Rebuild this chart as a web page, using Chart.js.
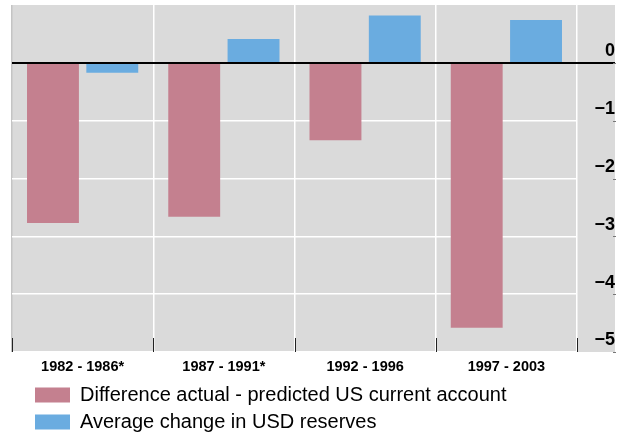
<!DOCTYPE html>
<html>
<head>
<meta charset="utf-8">
<script src="https://cdn.jsdelivr.net/npm/chart.js@4"></script>
<style>
  html, body { margin: 0; padding: 0; background: #fff; }
  #wrap { width: 622px; height: 432px; }
</style>
</head>
<body>
<div id="wrap"><canvas id="ch1" width="622" height="432"></canvas></div>
<script>
// data
const periods = ['1982 - 1986*', '1987 - 1991*', '1992 - 1996', '1997 - 2003'];
const currentAccountGap = [-2.77, -2.66, -1.34, -4.58];
const usdReserveChange = [-0.17, 0.41, 0.82, 0.74];
const seriesNames = ['Difference actual - predicted US current account', 'Average change in USD reserves'];
const yTicks = [0, -1, -2, -3, -4, -5];

const RED = '#c4808f';
const BLUE = '#6aace0';
const PANEL = '#dadada';
const PANEL_RIGHT = 615;

// grey panel behind plot and tick labels, zero line, axis marks
const panelPlugin = {
  id: 'panel',
  beforeDraw(chart) {
    const {ctx, chartArea: a} = chart;
    ctx.save();
    ctx.fillStyle = PANEL;
    ctx.fillRect(a.left, a.top, PANEL_RIGHT - a.left, a.bottom - a.top);
    ctx.restore();
  },
  afterDatasetsDraw(chart) {
    const {ctx, chartArea: a, scales: {x, y}} = chart;
    ctx.save();
    // zero line
    const y0 = Math.round(y.getPixelForValue(0));
    ctx.strokeStyle = '#000';
    ctx.lineWidth = 2;
    ctx.beginPath();
    ctx.moveTo(a.left, y0);
    ctx.lineTo(PANEL_RIGHT, y0);
    ctx.stroke();
    // category boundary ticks at the bottom
    ctx.strokeStyle = '#222';
    ctx.lineWidth = 1;
    const half = (x.getPixelForValue(1) - x.getPixelForValue(0)) / 2;
    for (let i = 0; i <= periods.length; i++) {
      const px = Math.round(x.getPixelForValue(i) - half) + 0.5;
      ctx.beginPath();
      ctx.moveTo(px, a.bottom - 14);
      ctx.lineTo(px, a.bottom);
      ctx.stroke();
    }
    // small marks on the right edge
    ctx.strokeStyle = '#777';
    yTicks.forEach(v => {
      const py = Math.round(y.getPixelForValue(v)) + 0.5;
      ctx.beginPath();
      ctx.moveTo(PANEL_RIGHT - 2, py);
      ctx.lineTo(PANEL_RIGHT + 1, py);
      ctx.stroke();
    });
    ctx.restore();
  },
  afterLayout(chart) {
    // legend sits further in than the library puts it
    chart.legend.left = 28;
    chart.legend.top = 378;
  }
};

const ctx = document.getElementById('ch1').getContext('2d');

const data = {
  labels: periods,
  datasets: [
    { label: seriesNames[0], data: currentAccountGap, backgroundColor: RED, borderWidth: 0 },
    { label: seriesNames[1], data: usdReserveChange, backgroundColor: BLUE, borderWidth: 0 }
  ]
};

const myBarChart = new Chart(ctx, {
  type: 'bar',
  data: data,
  plugins: [panelPlugin],
  options: {
    responsive: false,
    animation: false,
    devicePixelRatio: 1,
    layout: { padding: { top: 5, left: 12, right: 7, bottom: -10 } },
    datasets: { bar: { categoryPercentage: 0.84, barPercentage: 0.875 } },
    plugins: {
      tooltip: { enabled: false },
      legend: {
        position: 'bottom',
        align: 'start',
        labels: {
          boxWidth: 35,
          boxHeight: 15,
          padding: 7,
          color: '#000',
          font: { family: 'Liberation Sans, Arial, sans-serif', size: 20 }
        }
      }
    },
    scales: {
      x: {
        offset: true,
        border: { display: false },
        grid: {
          offset: true,
          drawTicks: false,
          color: c => (c.index === 0 ? '#c4c4c4' : '#ffffff'),
          lineWidth: 1.5
        },
        ticks: {
          padding: 6,
          color: '#000',
          font: { family: 'Liberation Sans, Arial, sans-serif', size: 14.5, weight: 'bold' }
        },
        afterFit: s => { s.height = 26; s.paddingLeft = 0; s.paddingRight = 0; }
      },
      y: {
        position: 'right',
        min: -5,
        max: 1,
        border: { display: false },
        grid: {
          drawTicks: false,
          color: c => (c.tick.value === 0 || c.tick.value === 1 ? 'rgba(0,0,0,0)' : '#ffffff'),
          lineWidth: 1.5
        },
        ticks: {
          stepSize: 1,
          padding: 10.5,
          crossAlign: 'far',
          labelOffset: -11.5,
          color: '#000',
          font: { family: 'Liberation Sans, Arial, sans-serif', size: 18, weight: 'bold' },
          callback: v => (yTicks.includes(v) ? (v < 0 ? '\u2212' + Math.abs(v) : String(v)) : '')
        },
        afterFit: s => { s.width = 38; s.paddingTop = 0; s.paddingBottom = 0; }
      }
    }
  }
});
</script>
</body>
</html>
